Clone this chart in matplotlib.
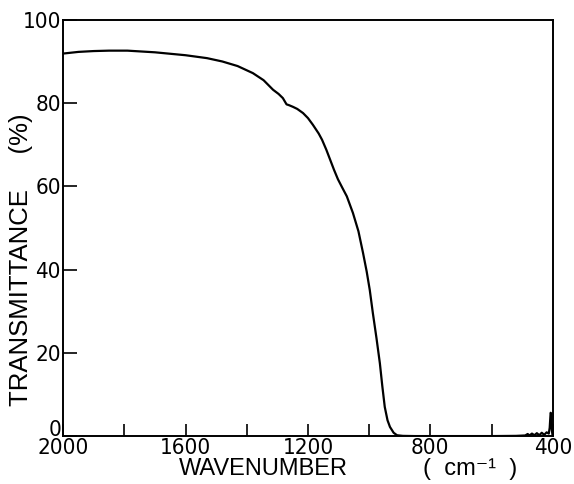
import matplotlib.pyplot as plt
from matplotlib.transforms import ScaledTranslation

# IR transmittance spectrum
wavenumber = [2000, 1950, 1900, 1850, 1790, 1700, 1600, 1530, 1480, 1430, 1380,
              1345, 1314, 1296, 1282, 1270, 1262, 1249, 1235, 1216, 1200, 1184,
              1165, 1154, 1140, 1128, 1115, 1102, 1088, 1073, 1053, 1035, 1020,
              1008, 998, 988, 976, 965, 957, 949, 940, 932, 920, 909, 890, 850,
              700, 600, 520, 490, 482, 476, 468, 460, 452, 444, 436, 428, 420,
              413, 410, 407, 405, 403, 401, 400]
transmittance = [91.9, 92.3, 92.5, 92.6, 92.6, 92.2, 91.5, 90.8, 90.0, 88.9, 87.2,
                 85.5, 83.2, 82.2, 81.2, 79.7, 79.5, 79.1, 78.6, 77.6, 76.4, 74.8,
                 72.7, 71.2, 68.8, 66.5, 64.0, 61.7, 59.7, 57.6, 53.6, 49.2, 44.0,
                 39.5, 35.1, 29.6, 23.5, 17.5, 12.0, 7.0, 3.8, 2.2, 0.8, 0.2, 0.05, 0.0,
                 0.0, 0.0, 0.05, 0.15, 0.5, 0.15, 0.6, 0.2, 0.7, 0.2, 0.8, 0.3, 0.9,
                 0.6, 2.0, 5.6, 5.4, 1.5, 0.3, 0.2]

x_ticks = [2000, 1600, 1200, 800, 400]
x_minor = [1800, 1400, 1000, 600]
y_ticks = [0, 20, 40, 60, 80, 100]


def main():
    fig = plt.figure(figsize=(5.74, 4.84), dpi=100)
    ax = fig.add_axes([0.110, 0.099, 0.853, 0.860])

    ax.plot(wavenumber, transmittance, color="black", lw=1.6)

    ax.set_xlim(2000, 400)
    ax.set_ylim(0, 100)
    ax.set_xticks(x_ticks)
    ax.set_xticks(x_minor, minor=True)
    ax.set_yticks(y_ticks)
    ax.tick_params(which="both", direction="in", length=8.5, width=1.2,
                   pad=1.5, top=False, right=False)
    ax.tick_params(axis="y", length=10)
    for lab in ax.get_xticklabels() + ax.get_yticklabels():
        lab.set_family("DejaVu Sans")
        lab.set_stretch("condensed")
        lab.set_fontsize(16)
    # the "0" sits just above the corner, clear of "2000"
    lab0 = ax.get_yticklabels()[0]
    lab0.set_transform(lab0.get_transform() + ScaledTranslation(0, 6 / 72, fig.dpi_scale_trans))
    for s in ax.spines.values():
        s.set_linewidth(1.4)

    fam = ["Liberation Sans", "DejaVu Sans"]
    fig.text(0.036, 0.463, "TRANSMITTANCE     (%)", rotation=90,
             ha="center", va="center", fontsize=18.5, family=fam)
    fig.text(0.458, 0.030, "WAVENUMBER", ha="center", va="center",
             fontsize=17, family=fam)
    fig.text(0.819, 0.030, "(  cm\u207b\u00b9  )", ha="center", va="center",
             fontsize=17, family=fam)

    fig.savefig("out.png", dpi=100)


if __name__ == "__main__":
    main()
